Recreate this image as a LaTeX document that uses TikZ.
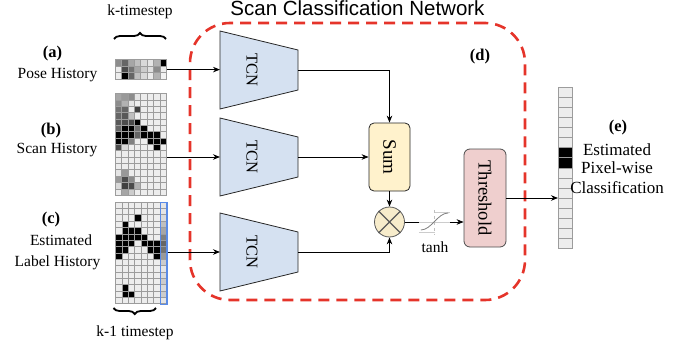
\documentclass[tikz,border=0pt]{standalone}
\usepackage{fontspec}
\setmainfont{Liberation Serif}
\newfontfamily\titlefont{Liberation Sans}
\usetikzlibrary{arrows.meta,decorations.pathreplacing,calc}
\definecolor{tcnblue}{HTML}{D5E1F1}
\definecolor{sumyellow}{HTML}{FFF2CC}
\definecolor{multyellow}{HTML}{F7ECCB}
\definecolor{threshpink}{HTML}{EFCFCE}
\definecolor{netred}{HTML}{E5342A}
\definecolor{histblue}{HTML}{5A8BE6}
\definecolor{cellgray}{HTML}{9C9C9C}
\newcommand\drawgrid[5]{%
  \foreach \rowvals [count=\ri from 0] in {#5} {
    \foreach \val [count=\ci from 0] in \rowvals {
      \filldraw[cellbox, fill=black!\val] ({#1+\ci*#3},{#2+\ri*#4}) rectangle ++(#3,#4);
    }
  }%
}
\begin{document}
\begin{tikzpicture}[x=1pt,y=-1pt,
  conn/.style={draw=black, line width=0.8pt, -{Stealth[length=7pt,width=5.5pt]}},
  plainconn/.style={draw=black, line width=0.8pt},
  cellbox/.style={draw=cellgray, line width=0.5pt},
  txt/.style={font=\fontsize{15.5}{18}\selectfont, inner sep=0pt},
  etxt/.style={font=\fontsize{17}{20}\selectfont, inner sep=0pt},
  tag/.style={font=\fontsize{16.5}{19}\selectfont\bfseries, inner sep=0pt},
  tcnshape/.style={fill=tcnblue, draw=black!85, line width=0.8pt},
  vlabel/.style={rotate=-90, inner sep=0pt},
  bracestyle/.style={draw=black, line width=1.8pt, decorate},
]
\useasboundingbox (0,0) rectangle (688,345);

% title and frame
\node[font=\titlefont\fontsize{20.5}{24}\selectfont, anchor=base, inner sep=0pt] (title) at (357.5,16) {Scan Classification Network};
\node[draw=netred, line width=2.6pt, dash pattern=on 11pt off 7pt, rounded corners=40pt, minimum width=335pt, minimum height=277pt, inner sep=0pt] (scn) at (357.5,161.5) {};
\node[tag, anchor=base] (ld) at (480,60) {(d)};

% input grids
\drawgrid{115}{59.5}{6.4}{6.6}{{45,60,35,25,15,10,30,100},{7,70,55,35,20,12,45,7},{7,100,60,25,15,8,30,5}}
\node[inner sep=0, minimum width=51.2pt, minimum height=19.8pt, anchor=north west] (gridA) at (115,59.5) {};

\drawgrid{115}{93.5}{6.4}{6.35}{{35,40,45,10,7,7,7,7},{45,30,10,7,7,7,7,7},{55,60,7,75,7,7,7,7},{60,65,25,7,7,7,7,7},{65,70,70,100,7,7,7,7},{60,100,100,55,100,7,7,7},{100,100,100,60,100,100,100,7},{100,100,50,7,7,100,100,100},{70,15,7,7,7,7,100,7},{7,7,7,7,7,7,7,7},{7,7,7,7,7,7,7,7},{7,7,7,7,7,7,7,7},{10,40,7,7,7,7,7,7},{40,70,45,7,7,7,7,7},{15,75,70,30,7,7,7,7},{7,35,20,7,7,7,7,7}}
\node[inner sep=0, minimum width=51.2pt, minimum height=101.6pt, anchor=north west] (gridB) at (115,93.5) {};

\drawgrid{115.5}{202}{6.35}{6.35}{{7,7,7,7,7,7,7,10},{7,7,7,7,7,7,7,10},{7,7,7,100,7,7,7,15},{7,100,7,7,7,7,7,25},{7,100,100,100,7,7,7,35},{100,100,100,100,100,7,7,50},{100,100,100,7,100,100,100,60},{100,100,7,7,7,100,100,55},{100,7,7,7,7,7,100,40},{7,7,7,7,7,7,7,20},{7,7,7,7,7,7,7,10},{7,7,7,7,7,7,7,15},{7,7,7,7,7,7,7,20},{7,100,7,7,7,7,7,15},{7,100,100,7,7,7,7,20},{7,7,7,7,7,7,7,10}}
\node[inner sep=0, minimum width=50.8pt, minimum height=101.6pt, anchor=north west] (gridC) at (115.5,202) {};
\node[draw=histblue, line width=1.3pt, minimum width=6.35pt, minimum height=101.6pt, anchor=north west, inner sep=0] (lastcol) at (159.95,202) {};

% braces and labels
\draw[bracestyle, decoration={brace, amplitude=6pt}] (114,39) -- (166,39);
\draw[bracestyle, decoration={brace, mirror, amplitude=6pt}] (113.5,308) -- (156,308);
\node[txt, anchor=base] (kt) at (140,15.5) {k-timestep};
\node[txt, anchor=base] (k1t) at (135,336.5) {k-1 timestep};
\node[tag, anchor=base] (la) at (52.5,58) {(a)};
\node[txt, anchor=base] (pa) at (57.5,78) {Pose History};
\node[tag, anchor=base] (lb) at (51,134) {(b)};
\node[txt, anchor=base] (pb) at (57,153) {Scan History};
\node[tag, anchor=base] (lc) at (51,223) {(c)};
\node[txt, anchor=base] (pc1) at (61,245) {Estimated};
\node[txt, anchor=base] (pc2) at (57.5,266) {Label History};

% TCN blocks
\foreach \nm/\cy in {A/70,B/157,C/252} {
  \draw[tcnshape] (220,\cy-39) -- (298,\cy-20) -- (298,\cy+20) -- (220,\cy+39) -- cycle;
  \coordinate (tcn\nm-in) at (220,\cy);
  \coordinate (tcn\nm-out) at (298,\cy);
  \node[vlabel, font=\fontsize{16.5}{19}\selectfont] (tcn\nm) at (252,\cy) {TCN};
}

% sum, multiply, threshold
\node[draw=black!85, fill=sumyellow, line width=0.8pt, rounded corners=5pt, minimum width=41pt, minimum height=68pt, inner sep=0] (sum) at (389.5,157) {};
\node[vlabel, font=\fontsize{19}{22}\selectfont] (sumtxt) at (sum.center) {Sum};
\node[circle, draw=black!65, fill=multyellow, line width=0.8pt, minimum size=30pt, inner sep=0] (mult) at (389.5,222) {};
\draw[black!65, line width=1.1pt] (mult.north west) -- (mult.south east) (mult.north east) -- (mult.south west);
\node[draw=black!70, fill=threshpink, rounded corners=6pt, minimum width=42pt, minimum height=98pt, inner sep=0, line width=0.8pt] (thr) at (485,198) {};
\node[vlabel, font=\fontsize{18.5}{22}\selectfont] (thrtxt) at (thr.center) {Threshold};

% tanh icon
\node[minimum width=31pt, minimum height=24pt, inner sep=0] (tanhicon) at (434.5,222) {};
\draw[black!20, line width=0.5pt] (tanhicon.west) -- (tanhicon.east);
\draw[black!25, line width=0.5pt, dashed] (tanhicon.north) -- (tanhicon.south);
\draw[black!20, line width=0.5pt] ($(tanhicon.north)+(0,2)$) -- ($(tanhicon.north east)+(0,2)$);
\draw[black!20, line width=0.5pt] ($(tanhicon.south west)+(0,-2)$) -- ($(tanhicon.south)+(0,-2)$);
\draw[black!50, line width=0.8pt] ($(tanhicon.west)+(2,8)$) .. controls ($(tanhicon.center)+(-3,8)$) and ($(tanhicon.center)+(3,-9)$) .. ($(tanhicon.east)+(-2,-9)$);
\node[txt, anchor=base] (tanhtxt) at (435,252) {tanh};

% output column
\drawgrid{558}{87}{14}{10.1}{{7},{7},{7},{7},{7},{7},{100},{100},{7},{7},{7},{7},{7},{7},{7},{7}}
\node[inner sep=0, minimum width=14pt, minimum height=161.6pt, anchor=north west] (colE) at (558,87) {};
\node[tag, anchor=base] (le) at (618,131) {(e)};
\node[etxt, anchor=base] (pe1) at (617,155) {Estimated};
\node[etxt, anchor=base] (pe2) at (617,173.5) {Pixel-wise};
\node[etxt, anchor=base] (pe3) at (617,193) {Classification};

% connectors
\draw[conn] (gridA.east) -- (gridA.east -| tcnA-in);
\draw[conn] (gridB.east |- tcnB-in) -- (tcnB-in);
\draw[conn] (lastcol.east |- tcnC-in) -- (tcnC-in);
\draw[conn] (tcnA-out) -| (sum.north);
\draw[conn] (tcnB-out) -- (sum.west);
\draw[conn] (sum.south) -- (mult.north);
\draw[conn] (tcnC-out) -| (mult.south);
\draw[plainconn] (mult.east) -- (tanhicon.west);
\draw[conn] (tanhicon.east) -- (tanhicon.east -| thr.west);
\draw[conn] (thr.east) -- (thr.east -| colE.west);
\end{tikzpicture}
\end{document}
